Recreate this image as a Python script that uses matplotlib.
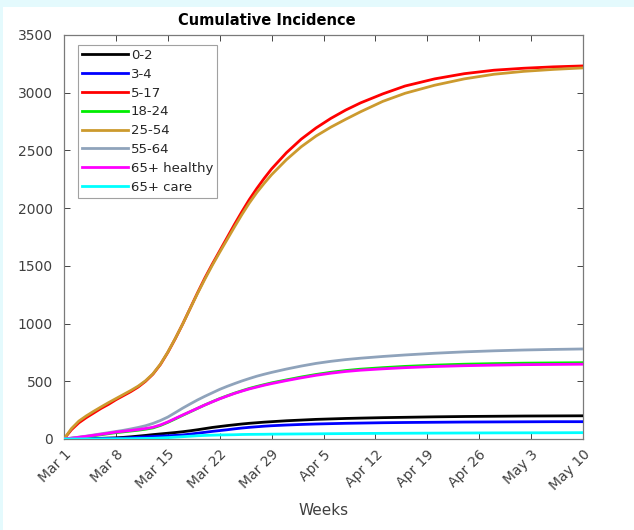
import matplotlib
matplotlib.use("Agg")
import matplotlib.pyplot as plt
from matplotlib.patches import Rectangle

# days since Mar 1
days = [0, 1, 2, 3, 4, 5, 6, 7, 8, 9, 10, 11, 12, 13, 14, 15, 16, 17, 18, 19, 20, 21, 22, 23, 24, 25,
        26, 27, 28, 30, 32, 34, 36, 38, 40, 43, 46, 50, 54, 58, 62, 66, 70]

age_groups = ["0-2", "3-4", "5-17", "18-24", "25-54", "55-64", "65+ healthy", "65+ care"]

inc_0_2 = [0, 1, 2, 3, 5, 6, 8, 10, 14, 19, 25, 31, 38, 44, 50, 56, 63, 71, 80, 90, 100, 108, 116, 123,
           130, 136, 141, 146, 150, 158, 164, 170, 174, 178, 181, 185, 188, 192, 195, 197, 199, 200, 201]
inc_3_4 = [0, 0.5, 1, 2, 3, 4, 5, 6, 8, 11, 15, 18, 22, 25, 28, 31, 35, 42, 50, 58, 66, 73, 80, 88, 95,
           101, 106, 111, 115, 121, 126, 130, 133, 136, 138, 141, 143, 145, 147, 148, 149, 150, 150]
inc_5_17 = [0, 80, 140, 185, 225, 265, 300, 340, 375, 410, 450, 500, 562, 645, 750, 868, 995, 1130,
            1265, 1395, 1515, 1630, 1745, 1860, 1970, 2075, 2170, 2258, 2340, 2480, 2598, 2695, 2778,
            2850, 2912, 2990, 3058, 3120, 3165, 3195, 3212, 3224, 3232]
inc_18_24 = [0, 6, 13, 20, 28, 37, 46, 55, 62, 69, 76, 85, 96, 117, 144, 174, 205, 235, 265, 295, 323,
             350, 374, 397, 418, 438, 455, 471, 486, 512, 537, 559, 578, 593, 605, 618, 629, 640, 648,
             653, 657, 659, 661]
inc_25_54 = [0, 90, 155, 200, 240, 278, 315, 350, 385, 420, 458, 505, 565, 648, 752, 870, 995, 1128,
             1260, 1385, 1505, 1618, 1728, 1838, 1945, 2045, 2135, 2215, 2290, 2420, 2532, 2625, 2702,
             2770, 2835, 2925, 2995, 3065, 3120, 3160, 3185, 3202, 3215]
inc_55_64 = [0, 8, 16, 25, 35, 45, 55, 65, 75, 87, 100, 115, 135, 160, 190, 228, 267, 303, 338, 370,
             400, 430, 456, 480, 503, 524, 544, 561, 577, 606, 632, 655, 673, 688, 700, 715, 728, 743,
             755, 764, 771, 776, 780]
inc_65_healthy = [0, 7, 15, 23, 32, 41, 50, 60, 67, 74, 82, 91, 102, 122, 148, 178, 208, 237, 266, 295,
                  322, 348, 372, 395, 415, 434, 450, 466, 480, 506, 530, 552, 570, 585, 596, 608, 618,
                  628, 635, 640, 644, 646, 648]
inc_65_care = [0, 0.2, 0.5, 0.8, 1, 1.3, 1.6, 2, 2.5, 3, 4, 5, 6, 9, 12, 16, 20, 24, 28, 31, 33, 35, 36,
               37, 39, 40, 40.5, 41, 42, 43, 44, 45, 46, 47, 48, 49, 50, 51, 52, 53, 53.5, 54, 55]

tick_days = [0, 7, 14, 21, 28, 35, 42, 49, 56, 63, 70]
tick_labels = ["Mar 1", "Mar 8", "Mar 15", "Mar 22", "Mar 29", "Apr 5", "Apr 12", "Apr 19",
               "Apr 26", "May 3", "May 10"]

series = [inc_0_2, inc_3_4, inc_5_17, inc_18_24, inc_25_54, inc_55_64, inc_65_healthy, inc_65_care]
colors = ["#000000", "#0000ff", "#ff0000", "#00ee00", "#cc9a2e", "#8fa3bb", "#ff00ff", "#00ffff"]

fig = plt.figure(figsize=(6.34, 5.30), dpi=100)
fig.patch.set_facecolor("white")
# light cyan frame at top and left
fig.patches.append(Rectangle((0, 1 - 7 / 530), 1, 7 / 530, transform=fig.transFigure,
                             facecolor="#e4fafd", edgecolor="none", zorder=0))
fig.patches.append(Rectangle((0, 0), 3 / 634, 1, transform=fig.transFigure,
                             facecolor="#e4fafd", edgecolor="none", zorder=0))

ax = fig.add_axes([64 / 634, 1 - 439 / 530, (583 - 64) / 634, (439 - 35) / 530])

# draw in an order so red sits above orange, magenta above green
order = [4, 2, 3, 6, 5, 0, 1, 7]
for i in order:
    ax.plot(days, series[i], color=colors[i], linewidth=2, label=age_groups[i], zorder=3 + i * 0.01)

handles, labels = ax.get_legend_handles_labels()
lookup = dict(zip(labels, handles))
leg = ax.legend([lookup[g] for g in age_groups], age_groups, loc="upper left",
                bbox_to_anchor=(0.027, 0.975), fontsize=9.5, frameon=True, fancybox=False,
                handlelength=3.5, handletextpad=0.2, labelspacing=0.44, borderpad=0.3,
                borderaxespad=0)
leg.get_frame().set_edgecolor("#8a8a8a")
leg.get_frame().set_linewidth(0.8)
for t in leg.get_texts():
    t.set_color("#262626")

ax.set_xlim(0, 70)
ax.set_ylim(0, 3500)
ax.set_xticks(tick_days)
ax.set_xticklabels(tick_labels, rotation=45, ha="right", rotation_mode="anchor")
ax.set_yticks(range(0, 3501, 500))
ax.tick_params(direction="in", top=True, right=True, labelsize=10, colors="#262626",
               length=4, width=0.6)
ax.tick_params(axis="y", pad=8)
ax.tick_params(axis="x", pad=6)
for lab in ax.get_xticklabels():
    lab.set_color("#404040")
for lab in ax.get_yticklabels():
    lab.set_color("#404040")
for sp in ax.spines.values():
    sp.set_color("#7a7a7a")
    sp.set_linewidth(0.9)

ax.set_title("Cumulative Incidence", fontsize=10.5, fontweight="bold", pad=7, x=0.391)
ax.set_xlabel("Weeks", fontsize=11, color="#404040", labelpad=7)

fig.savefig("out.png", dpi=100, facecolor=fig.get_facecolor())
